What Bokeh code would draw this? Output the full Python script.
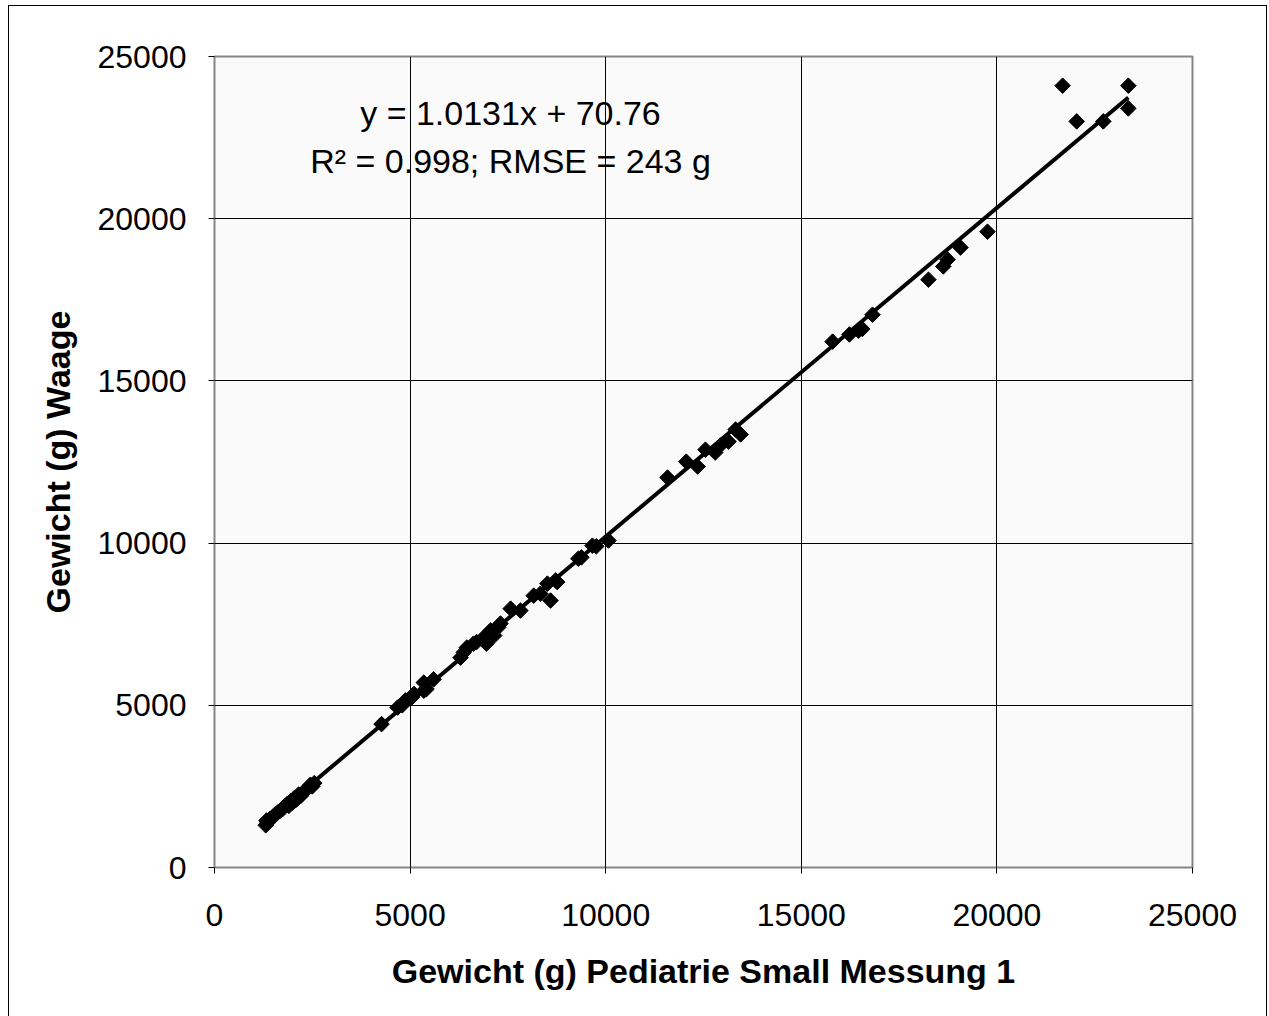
import numpy as np
from bokeh.plotting import figure
from bokeh.models import ColumnDataSource, Label, FixedTicker
from bokeh.embed import file_html
from bokeh.resources import INLINE

# Measured weights (g): Pediatrie Small Messung 1 (x) vs Waage (y)
x_vals = [1310, 1330, 1350, 1420, 1500, 1560, 1620, 1680, 1740, 1800, 1850, 1900,
          1950, 2000, 2050, 2100, 2150, 2200, 2250, 2350, 2450, 2500, 2550,
          4270, 4680, 4800, 4880, 5050, 5100, 5350, 5420, 5350, 5600,
          6290, 6370, 6450, 6620, 6700, 6880, 6950, 7060, 7150, 7310, 7250,
          7570, 7820, 8160, 8330, 8510, 8590, 8720, 8760, 9300, 9380, 9660, 9760, 10070,
          11580, 12060, 12350, 12550, 12800, 12930, 13140, 13320, 13450,
          15800, 16230, 16460, 16560, 16820,
          18250, 18630, 18740, 19070, 19760,
          21680, 22040, 22720, 23360, 23360]
y_vals = [1300, 1450, 1400, 1500, 1550, 1650, 1700, 1750, 1800, 1900, 1950, 1900,
          2050, 2000, 2150, 2100, 2250, 2200, 2300, 2400, 2550, 2500, 2600,
          4420, 4930, 5000, 5150, 5250, 5350, 5450, 5500, 5700, 5800,
          6470, 6630, 6780, 6900, 6950, 7090, 6900, 7310, 7150, 7520, 7400,
          7980, 7920, 8380, 8440, 8750, 8230, 8850, 8800, 9520, 9560, 9920, 9900, 10080,
          12020, 12510, 12360, 12880, 12790, 13010, 13130, 13500, 13350,
          16210, 16430, 16550, 16600, 17040,
          18120, 18530, 18740, 19110, 19600,
          24100, 23000, 23000, 24100, 23400]

slope = 1.0131
intercept = 70.76
eq_line1 = "y = 1.0131x + 70.76"
eq_line2 = "R\u00b2 = 0.998; RMSE = 243 g"
x_ticks = [0, 5000, 10000, 15000, 20000, 25000]
y_ticks = [0, 5000, 10000, 15000, 20000, 25000]
x_title = "Gewicht (g) Pediatrie Small Messung 1"
y_title = "Gewicht (g) Waage"

FONT = "Liberation Sans"

p = figure(width=1259, height=1011, x_range=(0, 25000), y_range=(0, 25000),
           output_backend="svg", toolbar_location=None,
           min_border_left=205, min_border_right=76, min_border_top=50, min_border_bottom=150)
p.styles = {"border-top": "1px solid #000", "border-left": "1px solid #000",
            "border-right": "1px solid #000", "margin-left": "8px", "margin-top": "5px"}
p.background_fill_color = "#FAFAFA"
p.border_fill_color = "#FFFFFF"
p.outline_line_color = "#858585"
p.outline_line_width = 2

for g in (p.xgrid, p.ygrid):
    g.grid_line_color = "#000000"
    g.grid_line_width = 1
p.xgrid.ticker = FixedTicker(ticks=x_ticks)
p.ygrid.ticker = FixedTicker(ticks=y_ticks)

for ax in (p.xaxis, p.yaxis):
    ax.axis_line_color = "#858585"
    ax.axis_line_width = 1
    ax.major_tick_line_color = "#000000"
    ax.major_tick_out = 6
    ax.major_tick_in = 0
    ax.minor_tick_out = 0
    ax.minor_tick_in = 0
    ax.major_label_text_font = FONT
    ax.major_label_text_font_size = "32px"
    ax.major_label_text_color = "#000000"
    ax.axis_label_text_font = FONT
    ax.axis_label_text_font_style = "bold"
    ax.axis_label_text_font_size = "34px"
    ax.axis_label_text_color = "#000000"

p.xaxis.ticker = FixedTicker(ticks=x_ticks)
p.yaxis.ticker = FixedTicker(ticks=y_ticks)
p.xaxis.axis_label = x_title
p.yaxis.axis_label = y_title
p.xaxis.major_label_standoff = 30
p.yaxis.major_label_standoff = 22
p.xaxis.axis_label_standoff = 23
p.yaxis.axis_label_standoff = 18

src = ColumnDataSource(dict(x=x_vals, y=y_vals))
p.scatter("x", "y", source=src, marker="square", size=11, angle=np.pi / 4,
          fill_color="#000000", line_color="#000000", line_width=1)

lx = [min(x_vals), max(x_vals)]
ly = [slope * v + intercept for v in lx]
p.line(lx, ly, line_color="#000000", line_width=4)

p.add_layout(Label(x=7566, y=23250, text=eq_line1, text_align="center", text_baseline="middle",
                   text_font=FONT, text_font_size="34px", text_color="#000000"))
p.add_layout(Label(x=7566, y=21780, text=eq_line2, text_align="center", text_baseline="middle",
                   text_font=FONT, text_font_size="34px", text_color="#000000"))

open("out.html", "w").write(file_html(p, INLINE))
